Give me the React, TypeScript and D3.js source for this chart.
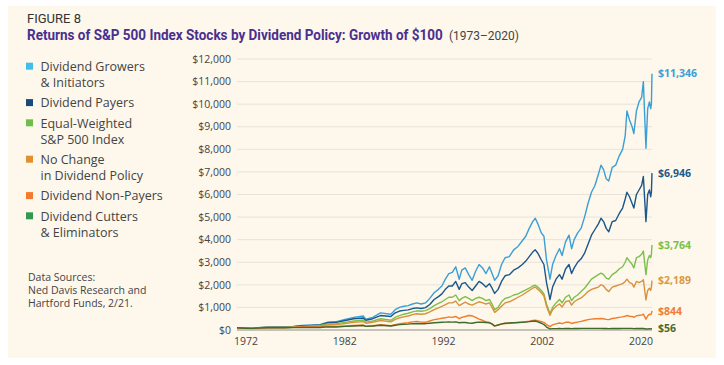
import React, { useLayoutEffect, useRef } from "react";
import * as d3 from "d3";

// time points (decimal years) shared by every series
const years = [
  1973.0, 1974.0, 1974.8, 1975.5, 1976.5, 1977.5, 1978.5, 1979.5, 1980.5, 1981.5,
  1982.6, 1983.5, 1984.5, 1985.5, 1986.5, 1987.6, 1987.9, 1988.7, 1989.6, 1990.8,
  1991.3, 1991.8, 1992.3, 1992.8, 1993.3, 1993.8, 1994.3, 1994.8, 1995.3, 1995.8,
  1996.3, 1996.7, 1997.1, 1997.5, 1997.9, 1998.3, 1998.7, 1999.0, 1999.4, 1999.8,
  2000.2, 2000.6, 2001.0, 2001.4, 2001.8, 2002.2, 2002.5, 2002.8, 2003.2, 2003.6,
  2004.0, 2004.5, 2005.0, 2005.5, 2006.0, 2006.4, 2006.8, 2007.2, 2007.5, 2007.8,
  2008.2, 2008.5, 2008.8, 2009.2, 2009.5, 2009.9, 2010.3, 2010.6, 2011.0, 2011.4,
  2011.7, 2012.0, 2012.4, 2012.8, 2013.2, 2013.6, 2014.0, 2014.4, 2014.8, 2015.1,
  2015.4, 2015.7, 2016.0, 2016.4, 2016.8, 2017.2, 2017.6, 2017.9, 2018.1, 2018.4,
  2018.7, 2018.9, 2019.2, 2019.5, 2019.8, 2020.0, 2020.3, 2020.5, 2020.7, 2020.85,
  2020.93, 2021.0,
];

const growers = [
  100, 82, 75, 105, 125, 130, 140, 160, 200, 215,
  240, 350, 370, 470, 560, 620, 480, 560, 760, 700,
  900, 1000, 1050, 1080, 1150, 1200, 1150, 1200, 1400, 1650,
  1800, 1950, 2250, 2500, 2550, 2800, 2250, 2650, 2750, 2450,
  2200, 2600, 2900, 2750, 2500, 2800, 2500, 2200, 2400, 2900,
  3200, 3250, 3550, 3700, 3950, 4150, 4500, 4800, 4950, 4700,
  4300, 4150, 3100, 2250, 2900, 3300, 3600, 3300, 3900, 4200,
  3600, 4000, 4300, 4500, 5000, 5600, 6100, 6400, 6900, 7300,
  7100, 6700, 6600, 7200, 7300, 7700, 8000, 8600, 9700, 9300,
  9000, 8700, 9700, 10100, 10300, 11000, 8050, 9800, 10100, 9800,
  10000, 11346,
];

const payers = [
  100, 80, 72, 100, 120, 122, 130, 150, 185, 200,
  225, 320, 340, 420, 500, 530, 430, 500, 640, 600,
  760, 840, 870, 890, 950, 980, 950, 990, 1130, 1350,
  1480, 1600, 1800, 1950, 1950, 2150, 1800, 2050, 2100, 1900,
  1750, 1950, 2150, 2050, 1900, 2050, 1850, 1620, 1800, 2150,
  2400, 2450, 2650, 2750, 2900, 3050, 3250, 3450, 3550, 3400,
  3100, 2900, 2100, 1350, 1900, 2250, 2450, 2250, 2700, 2900,
  2500, 2750, 3000, 3150, 3400, 3800, 4200, 4450, 4700, 4950,
  4800, 4500, 4350, 4800, 4850, 5150, 5400, 5800, 6100, 5900,
  5600, 5400, 6000, 6200, 6400, 6800, 4800, 6000, 6200, 5900,
  6100, 6946,
];

const equalWeighted = [
  100, 80, 70, 95, 115, 115, 120, 135, 160, 175,
  200, 270, 280, 340, 400, 440, 350, 400, 500, 430,
  560, 640, 700, 740, 800, 850, 830, 860, 950, 1080,
  1180, 1250, 1350, 1450, 1450, 1550, 1300, 1400, 1480, 1400,
  1300, 1400, 1450, 1400, 1300, 1350, 1150, 900, 1000, 1250,
  1400, 1450, 1550, 1600, 1700, 1780, 1850, 1950, 1980, 1900,
  1750, 1600, 1150, 720, 1000, 1200, 1350, 1200, 1450, 1550,
  1300, 1450, 1550, 1700, 1850, 2050, 2250, 2350, 2450, 2520,
  2450, 2300, 2250, 2450, 2550, 2700, 2800, 3000, 3200, 3050,
  2900, 2750, 3200, 3250, 3350, 3500, 2450, 3100, 3300, 3200,
  3350, 3764,
];

const noChange = [
  100, 80, 70, 90, 110, 108, 112, 125, 145, 155,
  170, 230, 240, 290, 340, 370, 300, 340, 420, 360,
  470, 540, 580, 620, 680, 720, 700, 720, 800, 900,
  980, 1050, 1120, 1200, 1200, 1280, 1080, 1150, 1230, 1150,
  1100, 1180, 1250, 1200, 1150, 1200, 1000, 780, 900, 1050,
  1200, 1250, 1350, 1450, 1550, 1650, 1750, 1850, 1900, 1800,
  1650, 1500, 1050, 650, 900, 1050, 1150, 1020, 1250, 1300,
  1100, 1250, 1350, 1420, 1550, 1700, 1800, 1850, 1900, 2000,
  1950, 1800, 1700, 1900, 1950, 2000, 2050, 2150, 2250, 2100,
  2050, 1900, 2150, 2100, 2150, 2230, 1330, 1750, 1850, 1750,
  1900, 2189,
];

const nonPayers = [
  100, 75, 60, 80, 95, 95, 100, 115, 140, 140,
  130, 170, 160, 180, 200, 220, 170, 190, 230, 190,
  240, 280, 300, 320, 360, 380, 350, 340, 400, 460,
  490, 520, 540, 580, 560, 600, 500, 560, 600, 640,
  630, 560, 480, 430, 360, 330, 260, 170, 220, 260,
  290, 300, 320, 330, 350, 370, 390, 420, 430, 410,
  370, 340, 240, 150, 230, 270, 310, 280, 340, 350,
  290, 320, 350, 380, 420, 460, 480, 500, 500, 510,
  500, 470, 460, 510, 530, 560, 580, 610, 640, 610,
  600, 560, 630, 650, 660, 700, 480, 620, 700, 680,
  730, 844,
];

const cutters = [
  100, 80, 70, 90, 105, 100, 100, 105, 115, 110,
  110, 140, 135, 160, 180, 200, 160, 180, 210, 180,
  210, 240, 250, 260, 280, 290, 280, 280, 300, 320,
  330, 340, 350, 360, 350, 360, 320, 330, 330, 310,
  300, 330, 350, 340, 330, 320, 270, 180, 220, 270,
  300, 310, 320, 330, 340, 350, 370, 390, 400, 360,
  300, 240, 130, 50, 60, 62, 65, 60, 66, 70,
  62, 66, 68, 70, 70, 72, 72, 74, 72, 70,
  68, 64, 60, 64, 66, 68, 70, 70, 72, 70,
  70, 62, 66, 66, 68, 70, 45, 52, 55, 52,
  54, 56,
];

const seriesNames = [
  ["Dividend Growers", "& Initiators"],
  ["Dividend Payers"],
  ["Equal-Weighted", "S&P 500 Index"],
  ["No Change", "in Dividend Policy"],
  ["Dividend Non-Payers"],
  ["Dividend Cutters", "& Eliminators"],
];
const seriesValues = [growers, payers, equalWeighted, noChange, nonPayers, cutters];
const lineColors = ["#3b9fd6", "#1b578a", "#7cc04a", "#d9913c", "#f07c2f", "#3f6a2a"];
const legendColors = ["#3fc0ec", "#17497a", "#6cbf4a", "#e0902f", "#f47b2c", "#2f9a50"];
const endLabelColors = ["#3aa0d8", "#1c5a8a", "#7cc04a", "#d99a45", "#ef7d32", "#4a6a2a"];

const yTicks = [0, 1000, 2000, 3000, 4000, 5000, 6000, 7000, 8000, 9000, 10000, 11000, 12000];
const xTickLabels = ["1972", "1982", "1992", "2002", "2020"];

const W = 724;
const H = 365;
const font = "'Open Sans', sans-serif";

// squeeze a text horizontally so it spans `width` px (fakes a condensed face)
function Condensed({ x, y, width, children, ...rest }: any) {
  const ref = useRef<SVGTextElement>(null);
  useLayoutEffect(() => {
    const el = ref.current;
    if (!el) return;
    const natural = el.getComputedTextLength();
    const s = natural > 0 ? width / natural : 1;
    el.setAttribute("transform", `translate(${x},${y}) scale(${s},1)`);
  }, [x, y, width]);
  return (
    <text ref={ref} transform={`translate(${x},${y})`} {...rest}>
      {children}
    </text>
  );
}

export default function App() {
  const x = d3.scaleLinear().domain([1973, 2021]).range([237, 652]);
  const y = d3.scaleLinear().domain([0, 12000]).range([330, 59]);
  const xLabel = d3.scalePoint().domain(xTickLabels).range([246, 641]);
  const fmt = d3.format("$,");

  const line = d3
    .line<number>()
    .x((_, i) => x(years[i]))
    .y((d) => y(d));

  // legend rows: each entry takes its lines plus a gap
  const legendLineH = 16.2;
  let legendY = 66.7;
  const legendRows = seriesNames.map((lines, i) => {
    const row = { lines, y: legendY, color: legendColors[i] };
    legendY += lines.length * legendLineH + 4;
    return row;
  });

  return (
    <>
      <style>{`body{margin:0}`}</style>
      <svg width={W} height={H} style={{ display: "block", background: "#fff" }}>
        <rect x={8} y={6} width={708} height={352} fill="#fdf7ec" />

        <Condensed x={27} y={23} width={54} fontFamily="Roboto, sans-serif" fontSize={12.5} fill="#333">
          FIGURE 8
        </Condensed>
        <Condensed x={27} y={40} width={416} fontFamily="Roboto, sans-serif" fontSize={14.5}
          fontWeight="bold" fill="#4a2f8f">
          Returns of S&amp;P 500 Index Stocks by Dividend Policy: Growth of $100
        </Condensed>
        <Condensed x={449} y={40} width={70} fontFamily="Roboto, sans-serif" fontSize={13} fill="#444">
          (1973–2020)
        </Condensed>

        {/* legend */}
        {legendRows.map((r, i) => (
          <g key={i}>
            <rect x={26} y={r.y - 4} width={7} height={7} fill={r.color} />
            {r.lines.map((t, j) => (
              <text key={j} x={40.5} y={r.y + j * legendLineH} dy="0.35em"
                fontFamily={font} fontSize={12.5} fill="#444">
                {t}
              </text>
            ))}
          </g>
        ))}

        <g fontFamily={font} fontSize={10.5} fill="#444">
          <text x={28} y={277} dy="0.35em">Data Sources:</text>
          <text x={28} y={290} dy="0.35em">Ned Davis Research and</text>
          <text x={28} y={303} dy="0.35em">Hartford Funds, 2/21.</text>
        </g>

        {/* grid + y axis */}
        {yTicks.map((t) => (
          <g key={t}>
            <line x1={237} x2={652} y1={y(t)} y2={y(t)}
              stroke={t === 0 ? "#b5b0a8" : "#e8e2d8"} strokeWidth={t === 0 ? 1.5 : 1} />
            <text x={231} y={y(t)} dy="0.35em" textAnchor="end" fontFamily={font}
              fontSize={10.5} fill="#444">
              {fmt(t)}
            </text>
          </g>
        ))}

        {xTickLabels.map((t) => (
          <text key={t} x={xLabel(t)} y={341} dy="0.35em" textAnchor="middle"
            fontFamily={font} fontSize={10.5} fill="#444">
            {t}
          </text>
        ))}

        {/* series lines */}
        {seriesValues.map((vals, i) => (
          <path key={i} d={line(vals) || ""} fill="none" stroke={lineColors[i]}
            strokeWidth={1.4} strokeLinejoin="round" />
        ))}

        {/* end labels */}
        {seriesValues.map((vals, i) => (
          <text key={i} x={658} y={y(vals[vals.length - 1])} dy="0.35em"
            fontFamily={font} fontSize={10.5} fontWeight="bold" fill={endLabelColors[i]}>
            {fmt(vals[vals.length - 1])}
          </text>
        ))}
      </svg>
    </>
  );
}
